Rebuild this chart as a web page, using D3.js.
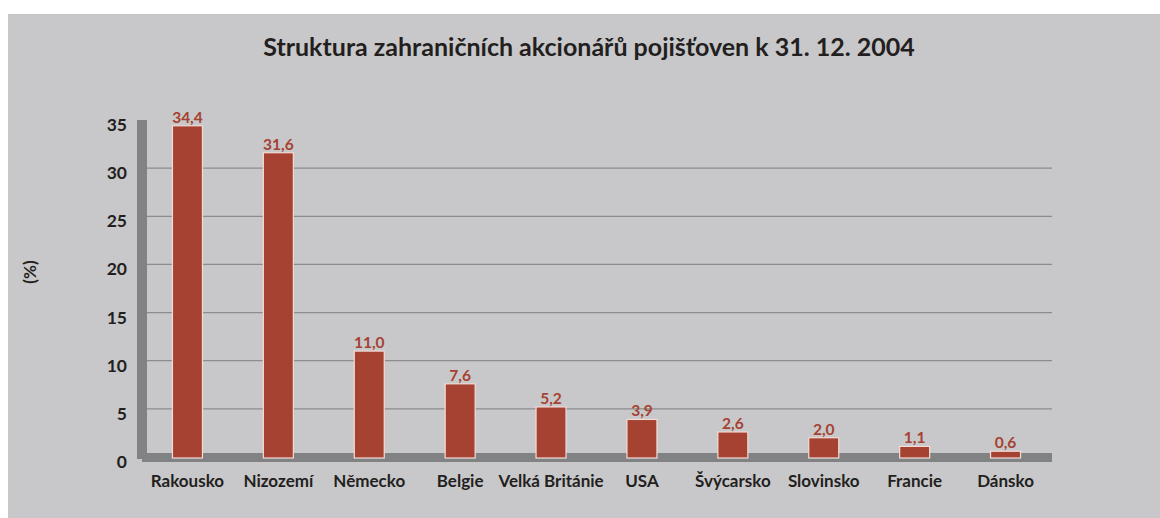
<!DOCTYPE html>
<html><head><meta charset="utf-8">
<script src="https://cdn.jsdelivr.net/npm/d3@7"></script>
<style>body{margin:0;background:#fff}svg{display:block}</style>
</head><body>
<svg id="c" width="1160" height="518"></svg>
<script>
const categories = ["Rakousko","Nizozemí","Německo","Belgie","Velká Británie","USA","Švýcarsko","Slovinsko","Francie","Dánsko"];
const values = [34.4,31.6,11.0,7.6,5.2,3.9,2.6,2.0,1.1,0.6];
const yTicks = [0,5,10,15,20,25,30,35];
const gridTicks = [5,10,15,20,25,30];
const title = "Struktura zahraničních akcionářů pojišťoven k 31. 12. 2004";
const yLabel = "(%)";

const svg = d3.select("#c");
const font = "Lato, 'Open Sans', sans-serif";
svg.append("rect").attr("x",8).attr("y",14).attr("width",1152).attr("height",504).attr("fill","#c8c8ca");

const x = d3.scaleBand().domain(categories).range([142,1051]).paddingInner(0.67).paddingOuter(0.335);
const y = d3.scaleLinear().domain([0,35]).range([457,120]);

// grid
svg.append("g").selectAll("line").data(gridTicks).join("line")
  .attr("x1",147).attr("x2",1052).attr("y1",d=>y(d)).attr("y2",d=>y(d))
  .attr("stroke","#8c8c8e").attr("stroke-width",1.2);

// wall and floor
svg.append("rect").attr("x",137).attr("y",y(35)).attr("width",10).attr("height",y(0)+2-y(35)).attr("fill","#818284");
svg.append("rect").attr("x",142).attr("y",y(0)-4).attr("width",1052-142).attr("height",9).attr("fill","#818284");

// bars
svg.append("g").selectAll("rect").data(values).join("rect")
  .attr("x",(d,i)=>x(categories[i])).attr("width",x.bandwidth())
  .attr("y",d=>y(d)).attr("height",d=>y(0)+1-y(d))
  .attr("fill","#a54232").attr("stroke","#f3dcd6").attr("stroke-width",1.2);

// value labels
svg.append("g").selectAll("text").data(values).join("text")
  .attr("x",(d,i)=>x(categories[i])+x.bandwidth()/2).attr("y",d=>y(d)-3)
  .attr("text-anchor","middle").attr("font-family",font).attr("font-weight","bold")
  .attr("font-size",15.5).attr("fill","#a54232")
  .text(d=>d.toFixed(1).replace(".",","));

// y tick labels
svg.append("g").selectAll("text").data(yTicks).join("text")
  .attr("x",127).attr("y",d=>y(d)+11).attr("text-anchor","end")
  .attr("font-family",font).attr("font-weight","bold").attr("font-size",17.5).attr("fill","#231f20")
  .text(d=>d);

// category labels
svg.append("g").selectAll("text").data(categories).join("text")
  .attr("x",d=>x(d)+x.bandwidth()/2).attr("y",487).attr("text-anchor","middle")
  .attr("font-family",font).attr("font-weight","bold").attr("font-size",17).attr("fill","#231f20")
  .text(d=>d);

svg.append("text").attr("x",589).attr("y",56).attr("text-anchor","middle")
  .attr("font-family",font).attr("font-weight","bold").attr("font-size",25).attr("fill","#231f20").text(title);

svg.append("text").attr("transform","translate(36,272) rotate(-90)").attr("text-anchor","middle")
  .attr("font-family",font).attr("font-weight","bold").attr("font-size",17).attr("fill","#231f20").text(yLabel);
</script>
</body></html>
